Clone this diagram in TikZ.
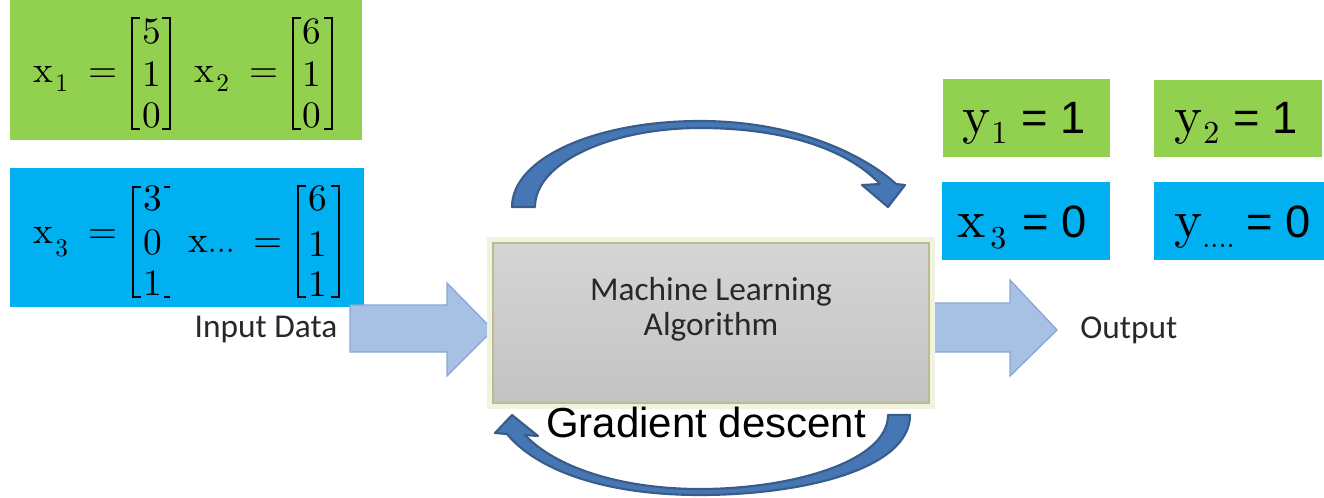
\documentclass[tikz,border=0pt]{standalone}
\usepackage{fontspec}
\newfontfamily\arialf{Liberation Sans}
\newfontfamily\calf{Carlito}
\newfontfamily\serf[Extension=.otf]{lmroman10-regular}
\newcommand\fsz[1]{\fontsize{#1}{#1}\selectfont}

\definecolor{lgreen}{HTML}{92D050}
\definecolor{lblue}{HTML}{00B0F0}
\definecolor{arrfill}{HTML}{4676B3}
\definecolor{arrdraw}{HTML}{385D8A}
\definecolor{blkfill}{HTML}{A7C1E5}
\definecolor{blkdraw}{HTML}{88A8D4}
\definecolor{boxedge}{HTML}{B9BE90}
\definecolor{boxglow}{HTML}{F1F3E0}
\definecolor{boxtop}{HTML}{D5D5D5}
\definecolor{boxbot}{HTML}{C3C3C3}
\definecolor{txtgray}{HTML}{282828}

\begin{document}
\begin{tikzpicture}[x=0.75pt,y=-0.75pt,
  brk/.style={line width=1.9pt},
  dig/.style={anchor=base, inner sep=0pt, font=\serf\fsz{28}},
  var/.style={anchor=base west, inner sep=0pt, font=\serf\fsz{28}},
  sub/.style={anchor=base west, inner sep=0pt, font=\serf\fsz{19}},
  eqs/.style={anchor=base, inner sep=0pt, font=\serf\fsz{28}},
  ovar/.style={anchor=base west, inner sep=0pt, font=\serf\fsz{40}},
  osub/.style={anchor=base west, inner sep=0pt, font=\serf\fsz{24}},
  oval/.style={anchor=base west, inner sep=0pt, font=\arialf\fsz{34}},
  cal/.style={inner sep=0pt, font=\calf\fsz{25}, text=txtgray},
  blockarrow/.style={fill=blkfill, draw=blkdraw, line width=1pt, line join=miter},
  loopshape/.style={fill=arrfill, draw=arrdraw, line width=1.6pt, line join=round},
]
\useasboundingbox (0,0) rectangle (1324,497);

% ---------- input vectors ----------
\fill[lgreen] (10,0) rectangle (362,140);
\fill[lblue] (10,168) rectangle (364,307);

% x_1
\node[var] (x1) at (33,82) {x};
\node[sub] (x1s) at (55,91) {1};
\node[eqs] (x1e) at (103,82) {=};
\draw[brk] (140,18) -- (132,18) -- (132,129) -- (140,129);
\draw[brk] (162,18) -- (170,18) -- (170,129) -- (162,129);
\node[dig] (x1a) at (152,43) {5};
\node[dig] (x1b) at (152,86) {1};
\node[dig] (x1c) at (152,127) {0};

% x_2
\node[var] (x2) at (194,82) {x};
\node[sub] (x2s) at (216,91) {2};
\node[eqs] (x2e) at (264,82) {=};
\draw[brk] (301,18) -- (293,18) -- (293,129) -- (301,129);
\draw[brk] (324,18) -- (332,18) -- (332,129) -- (324,129);
\node[dig] (x2a) at (312,43) {6};
\node[dig] (x2b) at (312,86) {1};
\node[dig] (x2c) at (312,127) {0};

% x_3
\node[var] (x3) at (33,243) {x};
\node[sub] (x3s) at (55,256) {3};
\node[eqs] (x3e) at (103,243) {=};
\draw[brk] (141,187) -- (133,187) -- (133,297) -- (141,297);
\draw[brk] (164,187) -- (170,187);
\draw[brk] (164,297) -- (170,297);
\node[dig] (x3a) at (153,210) {3};
\node[dig] (x3b) at (153,254) {0};
\node[dig] (x3c) at (153,295) {1};

% x...
\node[var] (xn) at (188,252) {x\fsz{24}...};
\node[eqs] (xne) at (268,252) {=};
\draw[brk] (306,186) -- (298,186) -- (298,297) -- (306,297);
\draw[brk] (331,186) -- (339,186) -- (339,297) -- (331,297);
\node[dig] (xna) at (318,210) {6};
\node[dig] (xnb) at (318,256) {1};
\node[dig] (xnc) at (318,296) {1};

% ---------- outputs ----------
\fill[lgreen] (943,79) rectangle (1110,157);
\fill[lgreen] (1154,80) rectangle (1322,157);
\fill[lblue] (942,182) rectangle (1110,260);
\fill[lblue] (1154,182) rectangle (1324,260);

\node[ovar] (y1) at (962,133) {y};
\node[osub] (y1s) at (991,143) {1};
\node[oval] (y1v) at (1021,133) {= 1};

\node[ovar] (y2) at (1174,133) {y};
\node[osub] (y2s) at (1203,143) {2};
\node[oval] (y2v) at (1233,133) {= 1};

\node[ovar] (o3) at (957,237) {x};
\node[osub] (o3s) at (990,248) {3};
\node[oval] (o3v) at (1022,237) {= 0};

\node[ovar] (yn) at (1174,237) {y};
\node[anchor=base west, inner sep=0pt, font=\serf\fsz{22}] (yns) at (1202,247) {....};
\node[oval] (ynv) at (1246,237) {= 0};

% ---------- block arrows ----------
\draw[blockarrow] (350,305) -- (447,305) -- (447,283) -- (493,330)
  -- (447,376) -- (447,352) -- (350,352) -- cycle;
\draw[blockarrow] (925,303) -- (1010,303) -- (1010,280) -- (1057,330)
  -- (1010,376) -- (1010,352) -- (925,352) -- cycle;

% ---------- algorithm box ----------
\draw[boxglow, line width=4pt] (490,240) rectangle (932,406);
\shade[top color=boxtop, bottom color=boxbot, draw=boxedge, line width=1.6pt]
  (493,243) rectangle (929,403);
\node[cal, anchor=base] (ml1) at (711,300) {Machine Learning};
\node[cal, anchor=base] (ml2) at (711,335) {Algorithm};

\node[cal, anchor=base] (inp) at (266,337) {Input Data};
\node[cal, anchor=base west] (outp) at (1080,338) {Output};

% ---------- feedback arrows ----------
\draw[loopshape] (512,207) .. controls (512,158) and (596,121) .. (700,121)
  .. controls (800,121) and (868,158) .. (896,184)
  -- (905,185) -- (888,207) -- (862,185) -- (880,184)
  .. controls (850,152) and (790,128) .. (700,128)
  .. controls (612,128) and (535,162) .. (535,207) -- cycle;

\draw[loopshape] (910,415) .. controls (910,470) and (800,495) .. (700,495)
  .. controls (600,495) and (535,468) .. (507,434)
  -- (495,433) -- (512,415) -- (538,436) -- (525,435)
  .. controls (555,467) and (620,489) .. (700,489)
  .. controls (790,489) and (888,462) .. (888,415) -- cycle;

\node[anchor=base, inner sep=0pt, font=\arialf\fsz{31.5}] (gd) at (706,437) {Gradient descent};
\end{tikzpicture}
\end{document}
